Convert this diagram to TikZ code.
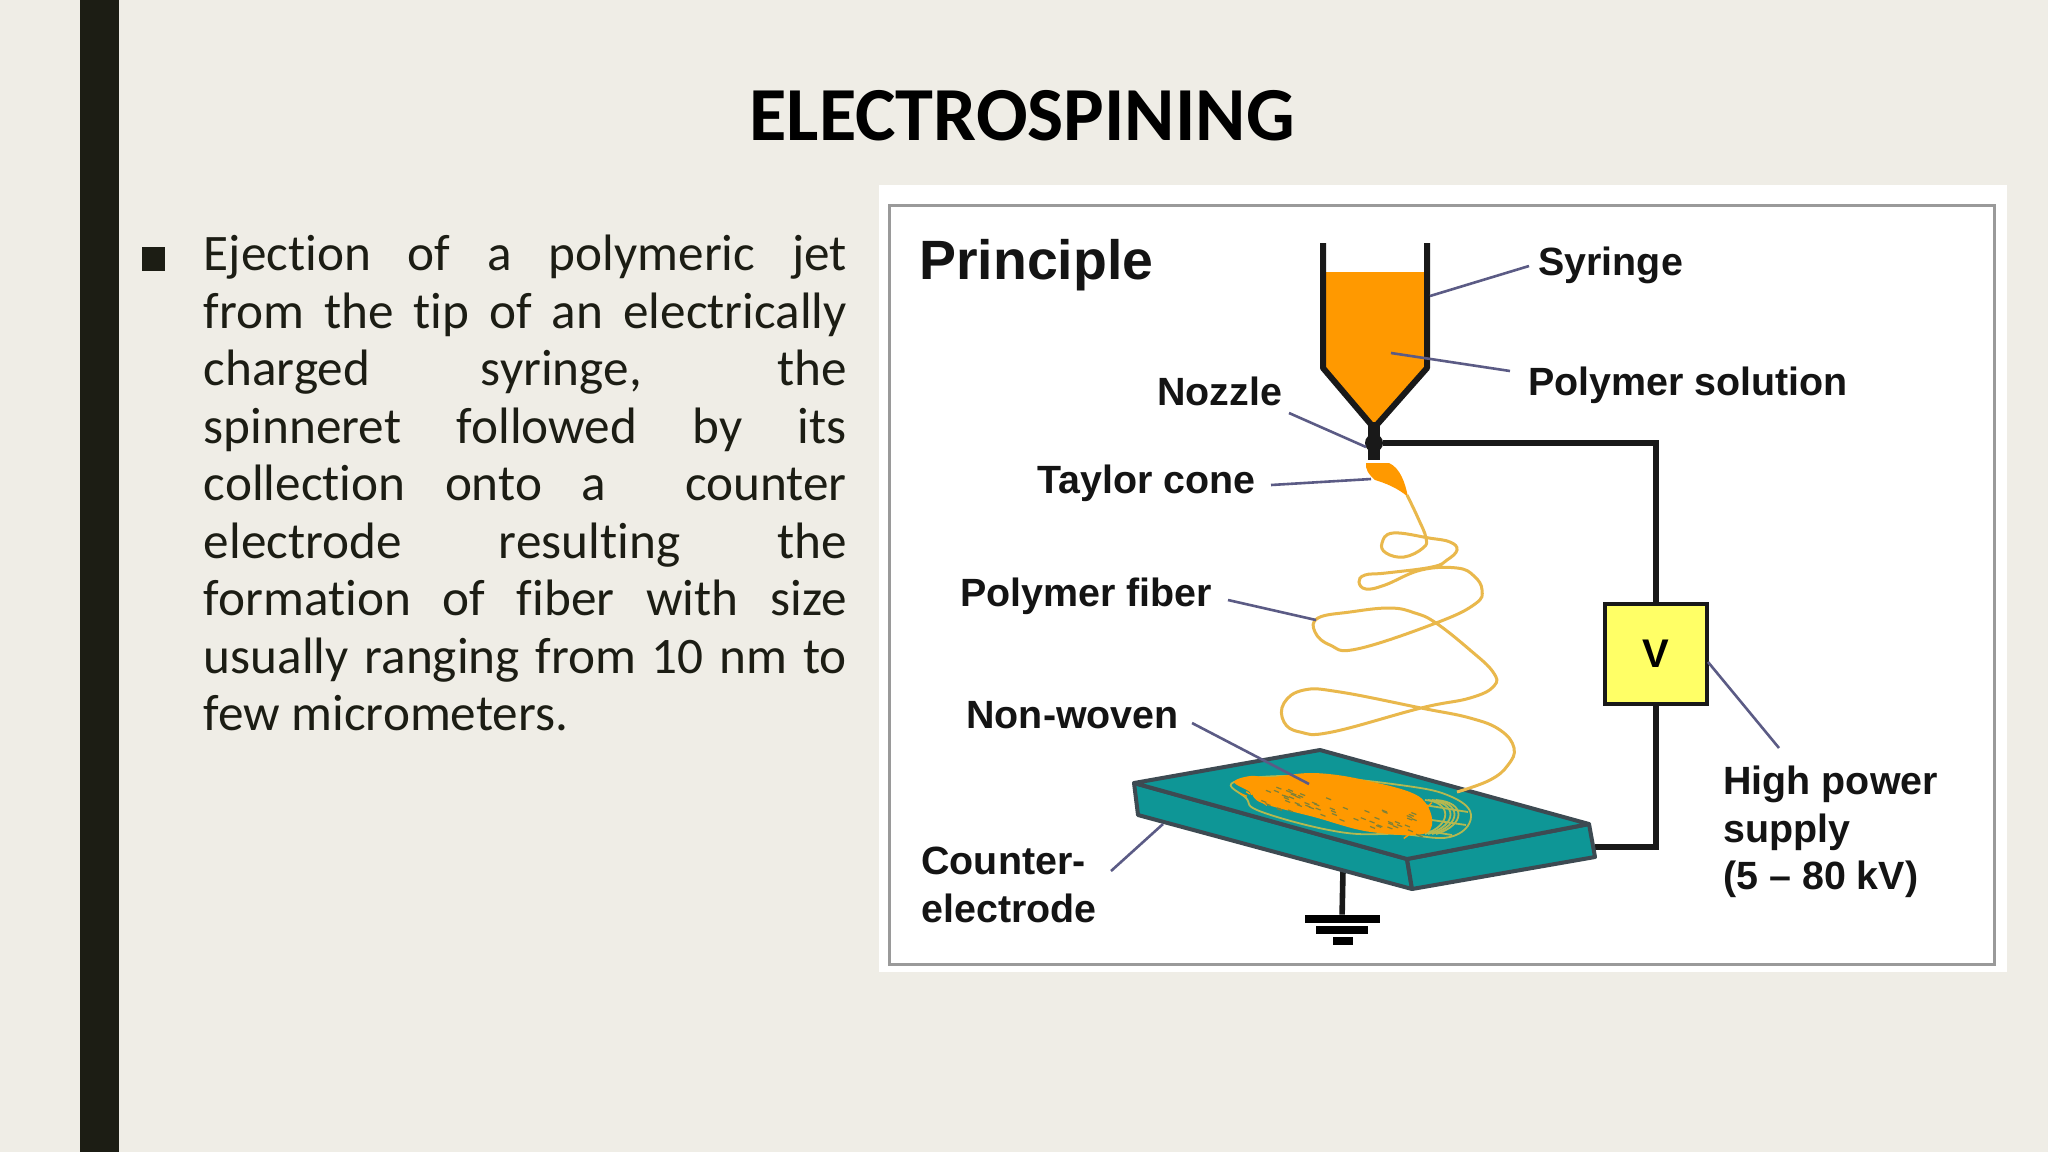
\documentclass[tikz,border=0pt]{standalone}
\usepackage{fontspec}
\usepackage{xcolor}
\setmainfont{Carlito}[Ligatures=NoCommon]
\newfontfamily\lblfont{Liberation Sans}
\definecolor{slidebg}{HTML}{EFEDE6}
\definecolor{slidebar}{HTML}{1C1D14}
\definecolor{framegray}{HTML}{9A9A9A}
\definecolor{polyorange}{HTML}{FF9900}
\definecolor{fiberyellow}{HTML}{E9B84C}
\definecolor{leadblue}{HTML}{5B5B85}
\definecolor{plateteal}{HTML}{0E9696}
\definecolor{plateedge}{HTML}{3D4A52}
\definecolor{boxyellow}{HTML}{FFFF66}
\definecolor{matgreen}{HTML}{B4B850}
\tikzset{
    lbl/.style={font=\lblfont\bfseries\fontsize{19.7}{23.7}\selectfont, text=black!92, inner sep=0pt, anchor=west, align=left},
    leader/.style={draw=leadblue, line width=1.3pt},
    wire/.style={draw=black!90, line width=2.8pt},
    fiber/.style={draw=fiberyellow, line width=1.5pt},
    mat/.style={draw=matgreen, line width=0.9pt},
    plate/.style={fill=plateteal, draw=plateedge, line width=2pt, line join=round},
}
\begin{document}
\begin{tikzpicture}[x=0.5pt,y=-0.5pt]
    \useasboundingbox (0,0) rectangle (2048,1152);
    \fill[slidebg] (0,0) rectangle (2048,1152);
    \fill[slidebar] (80,0) rectangle (119,1152);

    % slide text
    \node[font=\bfseries\fontsize{38.2}{41}\selectfont] (title) at (1022,116) {ELECTROSPINING};
    \node[fill=slidebar, minimum width=11.7pt, minimum height=12pt, inner sep=0pt] (bullet) at (153.5,258.5) {};
    \node[anchor=north west, inner sep=0pt, text width=321.5pt, align=justify, text=slidebar,
        font=\fontsize{25.6}{28.75}\selectfont] (body) at (203.5,235) {Ejection of a polymeric jet\linebreak
        from the tip of an electrically\linebreak
        charged syringe, the\linebreak
        spinneret followed by its\linebreak
        collection onto a \ counter\linebreak
        electrode resulting the\linebreak
        formation of fiber with size\linebreak
        usually ranging from 10 nm to\linebreak
        few micrometers.};

    % picture panel
    \fill[white] (879,185) rectangle (2007,972);
    \draw[framegray, line width=1.5pt] (889,205) rectangle (1994,964);

    % syringe
    \fill[polyorange] (1323,272) -- (1427,272) -- (1427,368) -- (1374,424) -- (1323,368) -- cycle;
    \draw[black!90, line width=3pt, line join=round] (1323,243) -- (1323,368) -- (1374,428) -- (1427,368) -- (1427,243);
    \fill[black!90] (1368,422) rectangle (1380,460);
    \node[circle, fill=black!90, minimum size=9pt, inner sep=0pt] (ball) at (1374,443) {};
    \fill[polyorange] (1366,463) -- (1389,463) .. controls (1400,468) and (1405,482) .. (1408,497)
        .. controls (1398,488) and (1385,483) .. (1375,480) .. controls (1368,474) and (1365,468) .. (1366,463) -- cycle;

    % power supply
    \node[draw=black!90, fill=boxyellow, line width=2pt, minimum width=51pt, minimum height=50pt, inner sep=0pt,
        font=\lblfont\bfseries\fontsize{20}{24}\selectfont] (vbox) at (1656,654) {V};
    \coordinate (plateR) at (1595,847);
    \draw[wire] (ball) -| (vbox.north);
    \draw[wire] (vbox.south) |- (plateR);

    % plate and ground
    \coordinate (gndTop) at (1343,870);
    \node[fill=black, minimum width=37.5pt, minimum height=4pt, inner sep=0pt] (gndA) at (1342,919) {};
    \node[fill=black, minimum width=26pt, minimum height=4pt, inner sep=0pt] (gndB) at (1342,930) {};
    \node[fill=black, minimum width=10pt, minimum height=4pt, inner sep=0pt] (gndC) at (1343,941) {};
    \draw[wire] (gndTop) -- (gndA);
    \draw[plate] (1134,783) -- (1138,815) -- (1412,889) -- (1407,859) -- cycle;
    \draw[plate] (1407,859) -- (1412,889) -- (1595,857) -- (1589,824) -- cycle;
    \draw[plate] (1134,783) -- (1320,750) -- (1589,824) -- (1407,859) -- cycle;

    % non-woven mat
    \draw[mat] plot[smooth cycle, tension=0.7] coordinates {(1234,782) (1300,776) (1400,785) (1452,797) (1471,817)
        (1450,837) (1400,834) (1340,832) (1262,812) (1246,798)};
    \foreach \mata/\matb in {1425/1452,1432/1462,1436/1466,1428/1458}{
        \draw[mat] (\mata,800) .. controls (\matb,802) and (\matb,825) .. (\mata,834);
    }
    \draw[mat] (1412,803) -- (1468,812) (1418,818) -- (1466,825) (1410,828) -- (1452,835);
    \fill[polyorange] plot[smooth cycle, tension=0.6] coordinates {(1234,782) (1250,776) (1271,777) (1314,773)
        (1364,780) (1421,798) (1428,832) (1371,832) (1314,817) (1262,803) (1250,792)};
    \pgfmathsetseed{17}
    \foreach \k in {1,...,90}{
        \pgfmathsetmacro{\spx}{1245+180*rnd}
        \pgfmathsetmacro{\spy}{777+(\spx-1245)*0.19+(rnd-0.1)*24}
        \draw[polyorange, line width=0.7pt] (\spx,\spy) -- ++(-14+28*rnd,-9+18*rnd);
    }
    \foreach \k in {1,...,60}{
        \pgfmathsetmacro{\spx}{1255+165*rnd}
        \pgfmathsetmacro{\spy}{785+(\spx-1255)*0.19+(rnd-0.1)*22}
        \draw[matgreen!70!black, line width=0.6pt] (\spx,\spy) -- ++(5,2);
    }

    % fiber
    \draw[fiber] plot[smooth, tension=0.7] coordinates {(1407,495) (1418,518) (1426,538) (1423,548) (1404,557) (1386,553)
        (1382,543) (1393,533) (1429,538) (1450,542) (1457,550) (1447,560) (1432,567) (1386,573) (1365,575) (1359,582)
        (1366,589) (1385,585) (1421,570) (1457,568) (1474,576) (1482,590) (1475,604) (1436,623) (1357,649) (1330,645)
        (1315,632) (1318,618) (1350,612) (1390,608) (1415,613) (1436,623) (1470,650) (1493,672) (1494,686) (1470,698)
        (1421,708) (1332,732) (1300,732) (1284,722) (1284,703) (1304,690) (1340,692) (1421,708) (1470,718) (1500,730)
        (1514,748) (1508,765) (1490,780) (1457,792)};

    % labels
    \node[lbl, font=\lblfont\bfseries\fontsize{27.7}{30}\selectfont] (principle) at (919,265) {Principle};
    \node[lbl] (syringe) at (1538,265) {Syringe};
    \node[lbl] (solution) at (1528,385) {Polymer solution};
    \node[lbl] (nozzle) at (1157,391) {Nozzle};
    \node[lbl] (taylor) at (1037,483) {Taylor cone};
    \node[lbl] (polyfiber) at (960,596) {Polymer fiber};
    \node[lbl] (nonwoven) at (966,715) {Non-woven};
    \node[lbl] (counter) at (921,885) {Counter-\\electrode};
    \node[lbl] (supply) at (1723,832) {High power\\supply\\(5 – 80 kV)};

    % leader lines
    \coordinate (syringeA) at (1529,266);
    \coordinate (syringeB) at (1430,296);
    \coordinate (solutionA) at (1510,371);
    \coordinate (solutionB) at (1391,353);
    \coordinate (nozzleA) at (1289,413);
    \coordinate (nozzleB) at (1366,447);
    \coordinate (taylorA) at (1271,485);
    \coordinate (taylorB) at (1371,479);
    \coordinate (fiberA) at (1228,600);
    \coordinate (fiberB) at (1316,620);
    \coordinate (wovenA) at (1192,723);
    \coordinate (wovenB) at (1309,784);
    \coordinate (counterA) at (1111,871);
    \coordinate (counterB) at (1163,824);
    \coordinate (supplyA) at (1708,662);
    \coordinate (supplyB) at (1779,748);
    \foreach \lead in {syringe,solution,nozzle,taylor,fiber,woven,counter,supply}{
        \draw[leader] (\lead A) -- (\lead B);
    }
\end{tikzpicture}
\end{document}
